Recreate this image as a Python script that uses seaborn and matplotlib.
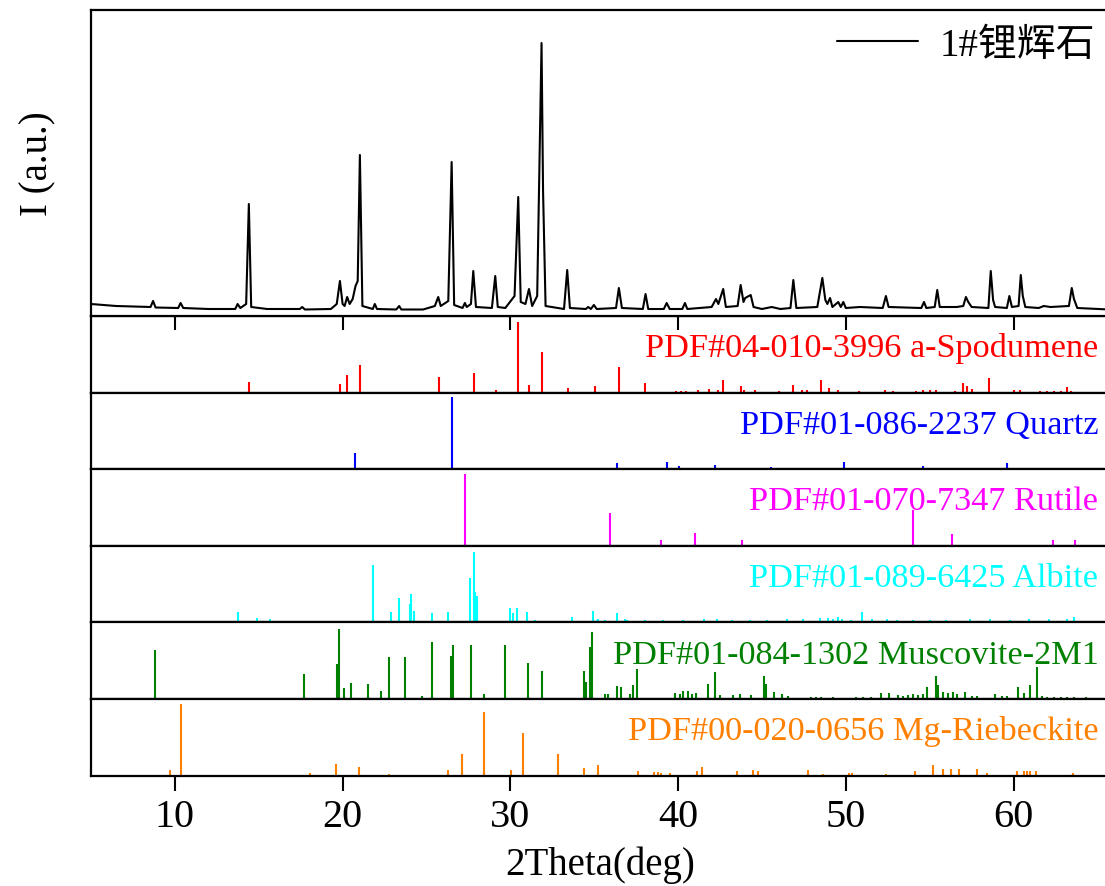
import matplotlib
matplotlib.use("Agg")
import matplotlib.pyplot as plt
import seaborn as sns
import numpy as np
import pandas as pd

# ---------------- data ----------------
two_theta = [5.0, 6.5, 8.55, 8.70, 8.85, 10.2, 10.34, 10.5, 12.0, 13.6, 13.74, 13.9, 14.25, 14.41, 14.55,
             15.5, 17.45, 17.59, 17.75, 19.3, 19.65, 19.84, 20.0, 20.12, 20.27, 20.42, 20.6, 20.77, 20.9,
             21.03, 21.18, 21.8, 21.92, 22.05, 23.2, 23.37, 23.5, 24.8, 25.5, 25.70, 25.85, 26.3, 26.5,
             26.65, 27.15, 27.29, 27.4, 27.65, 27.79, 27.95, 28.9, 29.10, 29.25, 29.7, 30.25, 30.47, 30.62,
             30.9, 31.11, 31.3, 31.6, 31.86, 31.95, 32.1, 33.2, 33.39, 33.55, 34.5, 34.64, 34.8, 34.98,
             35.15, 36.3, 36.47, 36.65, 37.9, 38.06, 38.22, 39.15, 39.32, 39.5, 40.25, 40.41, 40.55, 42.0,
             42.26, 42.4, 42.69, 42.85, 43.55, 43.73, 43.9, 44.0, 44.33, 44.5, 45.0, 45.58, 46.1, 46.7,
             46.87, 47.05, 48.3, 48.60, 48.78, 48.9, 49.06, 49.2, 49.55, 49.7, 49.85, 50.0, 50.84, 52.2,
             52.39, 52.55, 54.5, 54.66, 54.8, 55.3, 55.45, 55.6, 56.61, 57.0, 57.16, 57.3, 57.5, 58.5,
             58.64, 58.78, 58.9, 59.6, 59.75, 59.9, 60.3, 60.43, 60.55, 60.7, 61.5, 61.8, 62.2, 63.3,
             63.47, 63.6, 63.8, 65.7]
intensity = [12, 10, 9, 15, 8.5, 8, 13, 8, 7, 7, 12, 8, 12, 112, 9,
             7, 7, 9, 6.5, 7, 12, 35, 12, 10, 19, 12, 17, 30, 35,
             161, 10, 7, 12, 7, 6.5, 10, 6.5, 6.5, 10, 19, 10, 15, 154,
             11, 8, 13, 9, 12, 45, 9, 8, 40, 9, 8, 20, 119, 14,
             12, 27, 10, 20, 273, 125, 10, 7, 46, 8, 7, 9, 7, 11,
             7, 8, 28, 8, 7, 22, 7, 7, 13, 7, 7, 13, 7, 9,
             17, 12, 27, 9, 10, 31, 14, 18, 21, 9, 7, 9, 7, 8,
             36, 8, 9, 38, 16, 12, 18, 9, 14, 9, 14, 8, 9, 8,
             20, 9, 8, 14, 8, 9, 26, 9, 9, 10, 19, 14, 9, 8,
             45, 16, 9, 8, 20, 9, 10, 41, 20, 9, 8, 10, 9, 10,
             28, 17, 8, 6.5]

spod_pos = [14.41, 19.85, 20.24, 21.03, 25.72, 27.85, 29.12, 30.45, 31.09, 31.88, 33.41, 35.02, 36.49,
            38.04, 39.9, 40.2, 40.5, 41.2, 41.86, 42.4, 42.66, 43.73, 43.95, 44.6, 46.03, 46.87, 47.4,
            47.7, 48.54, 49.01, 49.55, 50.8, 52.33, 52.83, 54.2, 54.6, 55.0, 55.4, 56.51, 56.97, 57.24,
            57.5, 58.55, 60.0, 60.4, 61.6, 62.0, 62.4, 62.8, 63.2, 63.4]
spod_h = [14, 11, 23, 36, 21, 25, 3, 92, 10.5, 53, 6.6, 8, 34,
          12, 2, 2, 2.5, 3, 5, 4, 16, 9, 4, 4, 2, 10, 3,
          3, 17, 6, 3.5, 2.6, 4, 2, 2.5, 3, 3, 3, 2.6, 12, 9,
          5, 19, 4, 4, 2, 2, 2, 2, 7, 2]

quartz_pos = [20.75, 26.51, 36.37, 39.32, 40.07, 42.2, 45.52, 49.89, 50.4, 54.58, 54.9, 56.9, 59.63, 63.67]
quartz_h = [21, 94, 7.6, 9, 4.5, 6, 3.5, 9, 2, 4.5, 2, 1.5, 7.6, 2]

rutile_pos = [27.31, 35.94, 39.0, 40.99, 43.83, 53.98, 56.31, 62.34, 63.67]
rutile_h = [94, 43, 8, 17, 7, 47, 15, 8, 8]

albite_pos = [13.77, 14.9, 15.68, 18.98, 20.09, 21.82, 22.9, 23.35, 24.01, 24.09, 24.23, 25.34, 26.28,
              27.59, 27.81, 27.91, 28.0, 29.96, 30.15, 30.37, 30.97, 31.46, 31.86, 33.05, 33.35, 33.65,
              34.94, 35.14, 35.24, 35.64, 36.33, 36.83, 36.93, 38.02, 39.11, 40.3, 41.55, 42.3, 43.19,
              44.28, 45.28, 46.47, 47.46, 48.46, 48.95, 49.25, 49.55, 49.75, 50.29, 50.94, 51.54, 52.43,
              53.03, 54.0, 55.0, 56.0, 57.4, 58.6, 59.8, 60.9, 62.1, 63.2, 63.6]
albite_h = [14, 6, 5, 1, 1, 75, 13, 32, 24, 37, 15, 12, 13,
            58, 92, 40, 34, 19, 12, 19, 13, 3.5, 2, 1.5, 1.5, 6.5,
            15, 3.5, 4, 3, 12, 4, 3, 3, 3, 2.5, 4, 4, 3,
            3, 3, 4, 5, 6, 6, 5, 7, 5, 3, 14, 5, 4,
            3, 2.5, 3, 3, 4, 4, 3, 4, 4, 5, 7]

musc_pos = [8.79, 17.67, 19.66, 19.78, 20.07, 20.53, 20.87, 21.51, 22.26, 22.78, 23.71, 24.73, 25.34,
            26.47, 26.61, 27.67, 28.44, 29.7, 31.07, 31.88, 33.35, 34.39, 34.49, 34.74, 34.85, 35.64,
            35.84, 36.33, 36.57, 37.13, 37.33, 37.57, 38.3, 39.82, 40.12, 40.3, 40.6, 40.8, 41.06, 41.78,
            42.18, 42.5, 42.9, 43.29, 43.69, 44.33, 45.12, 45.24, 45.74, 46.17, 46.57, 47.9, 48.2, 48.5,
            49.25, 50.6, 51.0, 51.5, 52.1, 52.6, 53.1, 53.4, 53.7, 54.0, 54.3, 54.6, 54.82, 55.38,
            55.52, 55.8, 56.1, 56.4, 56.6, 57.1, 57.5, 57.8, 58.9, 59.3, 59.6, 60.25, 60.6, 60.98,
            61.38, 61.7, 62.0, 62.4, 62.8, 63.2, 63.6, 64.3]
musc_h = [64, 32, 46, 92, 15, 21, 1, 20, 11, 55, 55, 4, 75,
          56, 71, 70, 7, 71, 47, 36, 1, 37, 22, 68, 88, 7,
          7, 17, 16, 6, 18, 39, 1, 8, 6, 10, 10, 6, 8, 19,
          35, 5, 1.5, 5, 7, 5, 30, 19, 9, 6, 4, 3, 3, 3,
          2.5, 2, 2.5, 3, 8, 8, 5, 4, 5, 6, 5, 7, 16, 30,
          18, 9, 8, 9, 6, 9, 4, 4, 7, 4, 4, 16, 8, 18,
          42, 4, 3, 3, 3, 2, 2, 2]

rieb_pos = [9.7, 10.36, 18.05, 19.6, 20.95, 22.78, 26.28, 27.11, 28.42, 30.03, 30.75, 32.85, 34.39, 35.2,
            37.62, 38.55, 38.8, 39.0, 39.52, 41.1, 41.4, 43.53, 44.48, 44.78, 47.76, 48.62, 50.2, 50.35,
            52.4, 54.13, 55.18, 55.81, 56.25, 56.76, 57.8, 58.44, 60.22, 60.6, 60.8, 61.0, 61.35, 63.53]
rieb_h = [7.5, 93, 4, 15, 11, 2, 7.5, 28, 83, 7.5, 56, 28, 10, 14,
          6.6, 5, 5, 4, 4, 6, 10.6, 6, 7, 6, 7, 2, 4, 4,
          2, 6, 14, 8, 8, 8, 8, 3, 5.5, 5.5, 5.5, 5.5, 6, 4]

ref_labels = ["PDF#04-010-3996 a-Spodumene", "PDF#01-086-2237 Quartz", "PDF#01-070-7347 Rutile",
              "PDF#01-089-6425 Albite", "PDF#01-084-1302 Muscovite-2M1", "PDF#00-020-0656 Mg-Riebeckite"]
ref_colors = ["#FF0000", "#0000FF", "#FF00FF", "#00FFFF", "#008000", "#FF8000"]
ref_pos = [spod_pos, quartz_pos, rutile_pos, albite_pos, musc_pos, rieb_pos]
ref_h = [spod_h, quartz_h, rutile_h, albite_h, musc_h, rieb_h]
sample_label = "1#锂辉石"
x_ticks = [10, 20, 30, 40, 50, 60]

# ---------------- style ----------------
sns.set_theme(style="ticks")
plt.rcParams['font.family'] = ['Liberation Serif', 'Noto Sans CJK SC']
plt.rcParams['axes.linewidth'] = 1.6
plt.rcParams['axes.edgecolor'] = 'black'
plt.rcParams['text.color'] = 'black'
plt.rcParams['axes.labelcolor'] = 'black'
plt.rcParams['xtick.color'] = 'black'
plt.rcParams['ytick.color'] = 'black'

W, H = 1105, 887
fig = plt.figure(figsize=(W / 100, H / 100), dpi=100)
left_px, right_px = 91, 1108.5


def rect(top_px, bot_px):
    return [left_px / W, 1 - bot_px / H, (right_px - left_px) / W, (bot_px - top_px) / H]


XLIM = (5, 65.66)

sub_h = 76.6
axes_sub = []
for i in range(6):
    top = 317 + i * sub_h
    ax = fig.add_axes(rect(top, top + sub_h))
    ax.vlines(ref_pos[i], 0, ref_h[i], color=ref_colors[i], lw=1.5)
    ax.set_xlim(*XLIM)
    ax.set_ylim(0, 100)
    ax.set_yticks([])
    ax.text(1 - 10 / 1017, 0.475, ref_labels[i], transform=ax.transAxes, ha='right', va='baseline',
            color=ref_colors[i], fontsize=24.7)
    if i < 5:
        ax.set_xticks([])
    else:
        ax.set_xticks(x_ticks)
        ax.tick_params(axis='x', direction='out', length=11, width=1.5, labelsize=29, pad=5,
                       color='black', labelcolor='black')
        ax.set_xlabel("2Theta(deg)", fontsize=28, labelpad=8, color='black')
    axes_sub.append(ax)

ax_top = fig.add_axes(rect(11, 317))
ax_top.set_zorder(10)
df = pd.DataFrame({"2theta": two_theta, "I": intensity})
sns.lineplot(data=df, x="2theta", y="I", ax=ax_top, color="black", lw=1.5,
             estimator=None, label=sample_label)
ax_top.set_xlim(*XLIM)
ax_top.set_ylim(0, 306)
ax_top.set_xticks(x_ticks)
ax_top.tick_params(axis='x', direction='out', length=10, width=1.5, labelbottom=False, color='black')
ax_top.tick_params(axis='y', left=False, labelleft=False)
ax_top.set_xlabel("")
ax_top.set_ylabel("I (a.u.)", fontsize=28, labelpad=25, color='black')
leg = ax_top.legend(loc='upper right', bbox_to_anchor=(1 - 13 / 1017, 1 - 17 / 306), frameon=False,
                    fontsize=28, handlelength=2.1, handletextpad=0.55, borderaxespad=0, borderpad=0)
for t in leg.get_texts():
    t.set_color('black')

fig.savefig("out.png", dpi=100)
